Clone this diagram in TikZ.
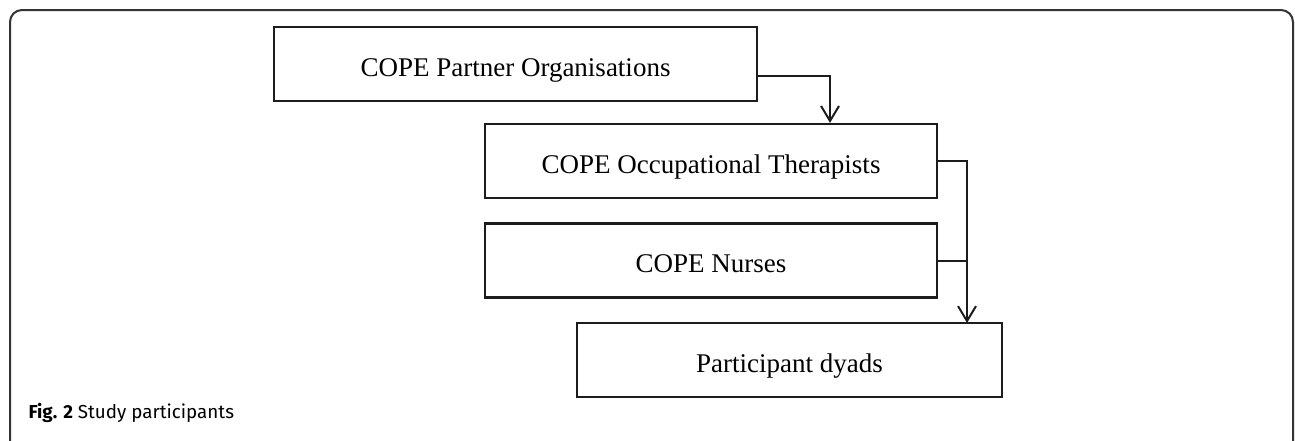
\documentclass[tikz,border=0pt]{standalone}
\usepackage{fontspec}
\setmainfont{Liberation Serif}
\newfontfamily\capfont{Fira Sans}
\usetikzlibrary{arrows.meta}

\definecolor{linegray}{HTML}{1C1C1C}
\definecolor{framegray}{HTML}{333333}

\tikzstyle{block} = [draw = linegray, text centered, minimum height = 74pt, line width = 2.2pt, inner sep = 0pt, text height = 24pt, text depth = 0pt, font = \fontsize{27}{31}\selectfont]
\tikzstyle{link} = [draw = linegray, line width = 2pt, -{Straight Barb[length = 15pt, width = 18pt, line width = 2pt]}]

\begin{document}
\begin{tikzpicture}[x = 1pt, y = -1pt]
		\useasboundingbox (0, 0) rectangle (1295, 440);
		\draw [framegray, line width = 2pt, rounded corners = 12pt] (10, 460) -- (10, 10) -- (1293, 10) -- (1293, 460);

		\node [block, minimum width = 483pt] at (515.5, 64) (1) {COPE Partner Organisations};
		\node [block, minimum width = 452pt] at (711, 161) (2) {COPE Occupational Therapists};
		\node [block, minimum width = 452pt] at (711, 260.5) (3) {COPE Nurses};
		\node [block, minimum width = 425pt] at (789.5, 360) (4) {Participant dyads};
		\coordinate (5) at (967, 323);
		\node [anchor = base west, font = \capfont\fontsize{18.8}{22}\selectfont] at (25, 418) (6) {\textbf{Fig. 2} Study participants};

		\draw [link] ([yshift = -12pt]1.east) -| ([xshift = 119pt]2.north);
		\draw [link] (2.east) -| (5);
		\draw [draw = linegray, line width = 2pt] (3.east) -- (3.east -| 5);
	\end{tikzpicture}
\end{document}
